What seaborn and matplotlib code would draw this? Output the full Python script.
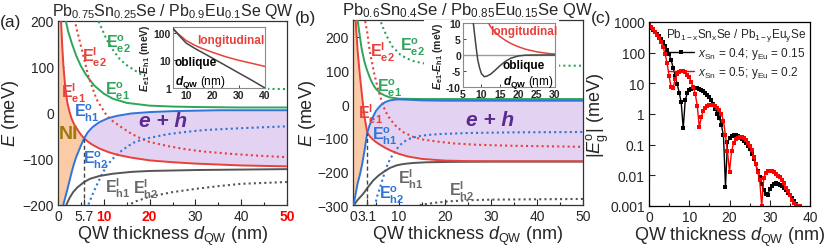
import numpy as np
import pandas as pd
import matplotlib
matplotlib.use("Agg")
import matplotlib.pyplot as plt
import seaborn as sns
from matplotlib.ticker import FixedLocator, NullLocator
from matplotlib.patches import Rectangle

# ---------------- Panel (a): Pb0.75Sn0.25Se / Pb0.9Eu0.1Se ----------------
d_a = [0, 0.3, 0.6, 0.9, 1.2, 1.6, 2.0, 2.5, 3.0, 3.5, 4.0, 4.5, 5.0, 5.7, 6.5, 7.5,
       9, 11, 13, 16, 20, 25, 30, 35, 40, 45, 50]
Ee1_l_a = [700, 420, 215, 150, 100, 55, 25, 3, -13, -24, -32, -40, -47, -55, -62, -69,
           -77, -85, -91, -97, -103, -107, -110, -112, -114, -115, -116]
Eh1_o_a = [-340, -290, -250, -218, -198, -183, -168, -148, -128, -110, -95, -83, -71, -55, -42, -31,
           -20, -11, -6, -1, 2, 4, 5, 6, 6, 6, 6]
d_e1o_a = [1.5, 1.7, 2.2, 3, 4, 5, 6, 7, 8, 10, 12, 15, 20, 25, 30, 40, 50]
Ee1_o_a = [225, 200, 178, 152, 124, 102, 85, 71, 59, 42, 31, 22, 16, 14, 13, 12, 12]
d_e2l_a = [3.5, 3.7, 4.1, 5.2, 6.6, 8.4, 10.6, 12, 14, 16, 18, 20, 24, 28, 32, 38, 44, 50]
Ee2_l_a = [215, 200, 182, 138, 81, 30, -5, -18, -32, -45, -55, -63, -72, -79, -84, -89, -93, -96]
d_e2o_a = [8.5, 8.8, 9.5, 10.6, 12, 13.5, 15, 16.4, 18, 20, 22, 25, 30, 40, 50]
Ee2_o_a = [210, 200, 185, 160, 137, 117, 104, 95, 85, 75, 68, 62, 57, 53, 52]
d_h2o_a = [6.4, 6.6, 7.5, 8.4, 9.5, 10.6, 12, 13.5, 15, 16.4, 18, 20, 24, 28, 32, 40, 50]
Eh2_o_a = [-210, -200, -178, -158, -135, -115, -99, -85, -74, -65, -59, -54, -46, -41, -37, -33, -29]
d_h1l_a = [1.5, 1.8, 2.5, 3.3, 4.2, 5.7, 7, 9, 12, 16, 20, 30, 40, 50]
Eh1_l_a = [-215, -200, -185, -172, -162, -150, -143, -137, -132, -128, -126, -124, -123, -122]
d_h2l_a = [15, 15.4, 17, 20, 25, 30, 35, 40, 50]
Eh2_l_a = [-203, -200, -192, -182, -172, -165, -159, -154, -150]
cross_a = (5.7, -55)
# inset (a)
dins_a = [5, 7, 10, 13, 16, 20, 25, 30, 35, 40]
long_a = [135, 90, 52, 36, 27, 19.5, 13.5, 10, 7.8, 6]
obl_a = [145, 85, 42, 28, 19.5, 12, 6.5, 3.5, 1.9, 1.0]

# ---------------- Panel (b): Pb0.6Sn0.4Se / Pb0.85Eu0.15Se ----------------
d_b = [0, 0.1, 0.4, 0.7, 1.0, 1.5, 2.0, 2.5, 3.1, 3.6, 4.2, 5, 6, 7, 8, 9, 10, 12, 15, 20, 25, 30, 40, 50]
Ee1_l_b = [700, 600, 300, 220, 160, 85, 20, -38, -85, -95, -104, -113, -122, -130, -137, -143, -148,
           -156, -163, -168, -169.5, -170, -170, -170]
Eh1_o_b = [-310, -300, -280, -258, -236, -210, -178, -138, -85, -63, -42, -20, -4, 6, 11, 13, 14,
           13, 11, 10, 10, 10, 10, 10]
d_e1o_b = [0.9, 1.0, 1.5, 1.9, 2.5, 3, 3.5, 4, 4.5, 5, 6, 7, 8, 10, 15, 20, 30, 50]
Ee1_o_b = [265, 250, 200, 163, 125, 103, 84, 68, 55, 45, 32, 25, 20, 16, 15, 15, 15, 15]
d_e2l_b = [2.5, 2.6, 3.1, 3.5, 4, 4.5, 5.1, 5.8, 6.6, 7.5, 8.5, 9.5, 11, 13, 15, 18, 22, 27, 35, 45, 50]
Ee2_l_b = [262, 250, 213, 170, 133, 98, 63, 28, -7, -33, -52, -68, -84, -97, -105, -111, -117, -121,
           -124, -126, -127]
d_e2o_b = [5.7, 5.9, 6.5, 7.3, 8.5, 10.2, 11.5, 13.1, 15, 17, 20, 30, 50]
Ee2_o_b = [258, 250, 228, 203, 172, 148, 137, 128, 122, 118, 116, 115, 114]
d_h2o_b = [4.7, 4.8, 5.3, 5.9, 6.5, 7.3, 8, 8.8, 10, 11, 12.5, 14, 16, 19, 25, 35, 50]
Eh2_o_b = [-305, -300, -272, -247, -220, -187, -165, -147, -125, -112, -102, -96, -92, -89, -86, -84, -83]
d_h1l_b = [0.2, 1, 2.2, 3.3, 4.4, 5.5, 6.6, 8, 9.5, 11, 13.1, 16, 20.4, 30, 50]
Eh1_l_b = [-300, -285, -267, -246, -227, -213, -202, -190, -182, -178, -175, -173, -172, -171, -171]
d_h2l_b = [14.5, 16, 18, 21, 25, 30, 40, 50]
Eh2_l_b = [-300, -297, -293, -289, -286, -284, -283, -282]
cross_b = (3.1, -85)
# inset (b)
dobl_b = [7.5, 8.0, 8.5, 9.0, 9.5, 10.0, 10.8, 11.5, 12.5, 13.5, 15, 16.5, 18, 20, 22, 25, 30]
obl_b = [13, 8, 3, -1.5, -4, -5.8, -6.8, -6.6, -6, -5, -3.4, -2, -1, -0.3, -0.05, 0, 0]
dlong_b = [11.7, 12.5, 13.5, 15, 16.5, 18, 20, 22, 25, 28, 30]
long_b = [10.5, 8.8, 7.4, 5.8, 4.6, 3.6, 2.6, 1.8, 1.0, 0.5, 0.3]

# ---------------- Panel (c): |Eg^o| ----------------
d_c_black = np.arange(0, 37.0, 0.5)
Eg_black = [780, 660, 560, 480, 410, 345, 285, 225, 170, 125, 88, 58, 32, 18, 9.5, 5, 2.4, 0.34,
            2.8, 4.8, 6.0, 6.7, 7.0, 7.1, 6.8, 6.4, 6.0, 5.6, 4.9, 4.3, 3.7, 2.9, 2.1, 1.5, 1.0, 0.75,
            0.43, 0.2, 0.0042, 0.12, 0.16, 0.185, 0.2, 0.2, 0.19, 0.175, 0.155, 0.13, 0.11, 0.09, 0.07,
            0.05, 0.035, 0.023, 0.014, 0.0085, 0.0052, 0.0033, 0.0025, 0.0022, 0.0035, 0.0045, 0.0052,
            0.0055, 0.0054, 0.005, 0.0045, 0.0039, 0.0033, 0.0027, 0.0022, 0.0018, 0.0015, 0.0012]
d_c_red = np.arange(0, 38.0, 0.5)
Eg_red = [800, 680, 570, 470, 380, 300, 220, 150, 90, 45, 17, 7.5, 7.2, 14, 20, 24, 26, 25, 23, 19,
          16, 11, 7.5, 4.5, 1.8, 0.37, 0.8, 1.3, 1.6, 1.8, 1.9, 1.95, 1.9, 1.8, 1.6, 1.4, 1.0, 0.6, 0.2,
          0.06, 0.013, 0.06, 0.11, 0.15, 0.17, 0.18, 0.175, 0.16, 0.14, 0.115, 0.09, 0.065, 0.04, 0.024,
          0.013, 0.007, 0.001, 0.008, 0.012, 0.0135, 0.014, 0.0135, 0.0125, 0.011, 0.0095, 0.0085, 0.007,
          0.0055, 0.004, 0.003, 0.0022, 0.0016, 0.0013, 0.0011, 0.001, 0.001]
series_labels = [r'$x_{\rm Sn}$ = 0.4; y$_{\rm Eu}$ = 0.15', r'$x_{\rm Sn}$ = 0.5; y$_{\rm Eu}$ = 0.2']

# ---------------- style ----------------
sns.set_theme(style="ticks")
plt.rcParams['font.family'] = ['Liberation Sans', 'DejaVu Sans']
plt.rcParams.update({
    'mathtext.fontset': 'custom',
    'mathtext.rm': 'Liberation Sans',
    'mathtext.it': 'Liberation Sans:italic',
    'mathtext.bf': 'Liberation Sans:bold',
    'mathtext.sf': 'Liberation Sans',
})
BFIT = r'\mathbf'
if 'mathtext.bfit' in plt.rcParams:
    plt.rcParams['mathtext.bfit'] = 'Liberation Sans:italic:bold'
    BFIT = r'\mathbfit'

RED = '#E8403A'
GREEN = '#2EA55A'
BLUE = '#2F74D8'
GRAY = '#555555'
LGRAY = '#6a6a6a'
ORANGE = '#FBCBA8'
PURPLE = '#E3D2F2'
EHCOL = '#5B2A8E'
NICOL = '#9B7A0F'
DOT = (0, (1, 1.5))

W, H = 830, 251
fig = plt.figure(figsize=(W / 100, H / 100), dpi=100)


def rect(l, r, t, b):
    return [l / W, 1 - b / H, (r - l) / W, (b - t) / H]


axA = fig.add_axes(rect(58, 287, 22, 206))
axB = fig.add_axes(rect(353, 583, 21, 206))
axC = fig.add_axes(rect(649, 810, 23, 207))


def line(ax, x, y, color, ls='-', lw=1.4, z=3):
    sns.lineplot(x=list(x), y=list(y), ax=ax, color=color, linestyle=ls, linewidth=lw,
                 estimator=None, legend=False, zorder=z)


def elabel(ax, x, y, sup, sub, color, fs=11.5):
    ax.text(x, y, r'$\mathbf{E}^{\mathbf{%s}}_{\mathbf{%s}}$' % (sup, sub), color=color,
            fontsize=fs, ha='center', va='center', zorder=6)


def main_panel(ax, d, e1l, h1o, cross, curves, labels, ylim, yt, ymin_t, xt, xlabels, eh_pos, ni_pos):
    d = np.asarray(d, float)
    e1l = np.asarray(e1l, float)
    h1o = np.asarray(h1o, float)
    ax.fill_between(d, h1o, e1l, where=d <= cross[0], interpolate=True, color=ORANGE, lw=0, zorder=1)
    ax.fill_between(d, e1l, h1o, where=d >= cross[0], interpolate=True, color=PURPLE, lw=0, zorder=1)
    for (x, y, c, ls) in curves:
        line(ax, x, y, c, ls=ls, lw=1.5 if ls != '-' else 1.4)
    line(ax, d, e1l, RED)
    line(ax, d, h1o, BLUE)
    ax.vlines(cross[0], ylim[0], cross[1], colors='#444444', linestyles=(0, (3, 2)), lw=1.0, zorder=4)
    for (x, y, sup, sub, c) in labels:
        elabel(ax, x, y, sup, sub, c)
    ax.text(eh_pos[0], eh_pos[1], 'e + h', color=EHCOL, fontsize=15, fontweight='bold',
            fontstyle='italic', ha='center', va='center', zorder=6)
    if ni_pos is not None:
        ax.text(ni_pos[0], ni_pos[1], 'NI', color=NICOL, fontsize=14, fontweight='bold',
                ha='center', va='center', zorder=6)
    ax.set_xlim(0, 50)
    ax.set_ylim(*ylim)
    ax.set_xticks(xt, xlabels)
    ax.xaxis.set_minor_locator(FixedLocator([5, 15, 25, 35, 45]))
    ax.set_yticks(yt)
    ax.yaxis.set_minor_locator(FixedLocator(ymin_t))
    ax.tick_params(which='both', direction='in', labelsize=10, width=0.8, pad=3)
    ax.tick_params(which='major', length=4)
    ax.tick_params(which='minor', length=2)
    for s in ax.spines.values():
        s.set_color('#333333')
        s.set_linewidth(0.9)
    ax.set_xlabel(r'QW thickness $d_{\rm QW}$ (nm)', fontsize=13)
    ax.set_ylabel(r'$E$ (meV)', fontsize=13)


# ---- Panel (a) ----
curves_a = [
    (d_e1o_a, Ee1_o_a, GREEN, '-'),
    (d_e2o_a, Ee2_o_a, GREEN, DOT),
    (d_e2l_a, Ee2_l_a, RED, DOT),
    (d_h2o_a, Eh2_o_a, BLUE, DOT),
    (d_h1l_a, Eh1_l_a, GRAY, '-'),
    (d_h2l_a, Eh2_l_a, GRAY, DOT),
]
labels_a = [
    (13.1, 152, 'o', 'e2', GREEN), (7.9, 123, 'l', 'e2', RED), (3.3, 45, 'l', 'e1', RED),
    (12.9, 48, 'o', 'e1', GREEN), (6.3, 2, 'o', 'h1', BLUE), (8.3, -102, 'o', 'h2', BLUE),
    (13.1, -161, 'l', 'h1', LGRAY), (19.2, -165, 'l', 'h2', LGRAY),
]
main_panel(axA, d_a, Ee1_l_a, Eh1_o_a, cross_a, curves_a, labels_a, (-200, 200),
           [-200, -100, 0, 100, 200], [-150, -50, 50, 150],
           [0, 5.7, 10, 20, 30, 40, 50], ['0', '5.7', '10', '20', '30', '40', '50'],
           (23, -16), (2.4, -45))
for lbl in axA.get_xticklabels():
    if lbl.get_text() in ('10', '20', '50'):
        lbl.set_color('#FF0000')
        lbl.set_fontweight('bold')
axA.set_title(r'Pb$_{0.75}$Sn$_{0.25}$Se / Pb$_{0.9}$Eu$_{0.1}$Se QW', fontsize=11.5, pad=4.5)
axA.yaxis.set_label_coords(-0.16, 0.5)
axA.xaxis.set_label_coords(0.5, -0.10)

# ---- Panel (b) ----
curves_b = [
    (d_e1o_b, Ee1_o_b, GREEN, '-'),
    (d_e2o_b, Ee2_o_b, GREEN, DOT),
    (d_e2l_b, Ee2_l_b, RED, DOT),
    (d_h2o_b, Eh2_o_b, BLUE, DOT),
    (d_h1l_b, Eh1_l_b, GRAY, '-'),
    (d_h2l_b, Eh2_l_b, GRAY, DOT),
]
labels_b = [
    (13, 172, 'o', 'e2', GREEN), (6.3, 157, 'l', 'e2', RED), (8, 49, 'o', 'e1', GREEN),
    (3.7, -28, 'l', 'e1', RED), (7.0, -92, 'o', 'h1', BLUE), (8.5, -268, 'o', 'h2', BLUE),
    (12.6, -220, 'l', 'h1', LGRAY), (23.7, -257, 'l', 'h2', LGRAY),
]
main_panel(axB, d_b, Ee1_l_b, Eh1_o_b, cross_b, curves_b, labels_b, (-300, 250),
           [-300, -200, -100, 0, 100, 200], [-250, -150, -50, 50, 150],
           [0, 3.1, 10, 20, 30, 40, 50], ['0', '3.1', '10', '20', '30', '40', '50'],
           (29.8, -47), None)
axB.set_title(r'Pb$_{0.6}$Sn$_{0.4}$Se / Pb$_{0.85}$Eu$_{0.15}$Se QW', fontsize=12, pad=4.5)
axB.yaxis.set_label_coords(-0.152, 0.5)
axB.xaxis.set_label_coords(0.5, -0.10)

# ---- white boxes behind insets ----
for (l, r, t, b) in [(144, 268, 25, 99), (424, 559, 21, 98)]:
    fig.patches.append(Rectangle((l / W, 1 - b / H), (r - l) / W, (b - t) / H,
                                 transform=fig.transFigure, facecolor='white', edgecolor='none',
                                 zorder=1))


def inset_style(ax):
    ax.set_facecolor('white')
    for s in ax.spines.values():
        s.set_color('#8a8a8a')
        s.set_linewidth(0.8)
    ax.tick_params(which='both', direction='in', labelsize=7.5, length=2.5, width=0.6, pad=1.5)
    for lbl in ax.get_xticklabels() + ax.get_yticklabels():
        lbl.set_fontweight('bold')
    ax.set_xlabel('')


ylab_ins = r'$%s{E}_{\mathbf{e1}}$-$%s{E}_{\mathbf{h1}}$ (meV)' % (BFIT, BFIT)
dlab_ins = r'$%s{d}_{\mathbf{QW}}$ (nm)' % BFIT

# inset (a)
insA = fig.add_axes(rect(173, 265, 28, 89), zorder=5)
line(insA, dins_a, long_a, RED, lw=1.1)
line(insA, dins_a, obl_a, '#444444', lw=1.1)
insA.set_yscale('log')
insA.set_xlim(5, 40)
insA.set_ylim(1, 160)
insA.set_xticks([10, 20, 30, 40], ['10', '20', '30', '40'])
insA.set_yticks([1, 10, 100], ['1', '10', '100'])
insA.yaxis.set_minor_locator(NullLocator())
inset_style(insA)
insA.set_ylabel(ylab_ins, fontsize=7.5, fontweight='bold', labelpad=1)
insA.text(26.9, 53, 'longitudinal', color=RED, fontsize=8.5, fontweight='bold', ha='center', va='center')
insA.text(13.7, 8.6, 'oblique', color='black', fontsize=8.5, fontweight='bold', ha='center', va='center')
insA.text(15.3, 1.7, dlab_ins, color='black', fontsize=8.5, ha='center', va='center')

# inset (b)
insB = fig.add_axes(rect(463, 555, 24, 88), zorder=5)
insB.axhline(0, color='#9a9a9a', lw=1.0, zorder=1)
line(insB, dlong_b, long_b, RED, lw=1.1)
line(insB, dobl_b, obl_b, '#444444', lw=1.1)
insB.set_xlim(5, 30)
insB.set_ylim(-10, 10)
insB.set_xticks([5, 10, 15, 20, 25, 30], ['5', '10', '15', '20', '25', '30'])
insB.set_yticks([-10, -5, 0, 5, 10], ['-10', '-5', '0', '5', '10'])
inset_style(insB)
insB.set_ylabel(ylab_ins, fontsize=7.5, fontweight='bold', labelpad=1)
insB.text(21.4, 7.6, 'longitudinal', color=RED, fontsize=8.5, fontweight='bold', ha='center', va='center')
insB.text(21.5, -3.2, 'oblique', color='black', fontsize=8.5, fontweight='bold', ha='center', va='center')
insB.text(22.7, -8.2, dlab_ins, color='black', fontsize=8.5, ha='center', va='center')

# ---- Panel (c) ----
df_c = pd.concat([
    pd.DataFrame({'d': d_c_black, 'Eg': Eg_black, 'series': series_labels[0]}),
    pd.DataFrame({'d': d_c_red, 'Eg': Eg_red, 'series': series_labels[1]}),
])
sns.lineplot(data=df_c, x='d', y='Eg', hue='series', hue_order=series_labels,
             palette=['black', '#FF0000'], marker='s', markersize=3.2, markeredgewidth=0,
             linewidth=1.0, estimator=None, legend=False, ax=axC)
axC.set_yscale('log')
axC.set_xlim(0, 40)
axC.set_ylim(0.001, 1000)
axC.set_xticks([0, 10, 20, 30, 40], ['0', '10', '20', '30', '40'])
axC.xaxis.set_minor_locator(FixedLocator([5, 15, 25, 35]))
axC.set_yticks([0.001, 0.01, 0.1, 1, 10, 100, 1000],
               ['0.001', '0.01', '0.1', '1', '10', '100', '1000'])
axC.yaxis.set_minor_locator(NullLocator())
axC.tick_params(which='both', direction='in', labelsize=10, width=0.8, pad=3)
axC.tick_params(which='major', length=4)
axC.tick_params(which='minor', length=2)
for s in axC.spines.values():
    s.set_color('black')
    s.set_linewidth(0.9)
axC.set_xlabel(r'QW thickness $d_{\rm QW}$ (nm)', fontsize=13)
axC.set_ylabel(r'$|E^{\rm o}_{\rm g}|$ (meV)', fontsize=13)
axC.yaxis.set_label_coords(-0.236, 0.5)
axC.xaxis.set_label_coords(0.5, -0.10)
handles = axC.get_lines()[:2]
leg = axC.legend(handles=handles, labels=series_labels, loc='upper right', frameon=False,
                 fontsize=8.5, title=r'Pb$_{\rm 1-x}$Sn$_{\rm x}$Se / Pb$_{\rm 1-y}$Eu$_{\rm y}$Se',
                 title_fontsize=8.5, handlelength=2.2, handletextpad=0.3, labelspacing=0.25,
                 borderaxespad=0.1, borderpad=0.2, bbox_to_anchor=(1.0, 1.0))

# panel letters
fig.text(11 / W, 1 - 23 / H, '(a)', fontsize=12.5, ha='center', va='center')
fig.text(305 / W, 1 - 18 / H, '(b)', fontsize=12.5, ha='center', va='center')
fig.text(601 / W, 1 - 18 / H, '(c)', fontsize=12.5, ha='center', va='center')

fig.savefig('out.png', dpi=100)
